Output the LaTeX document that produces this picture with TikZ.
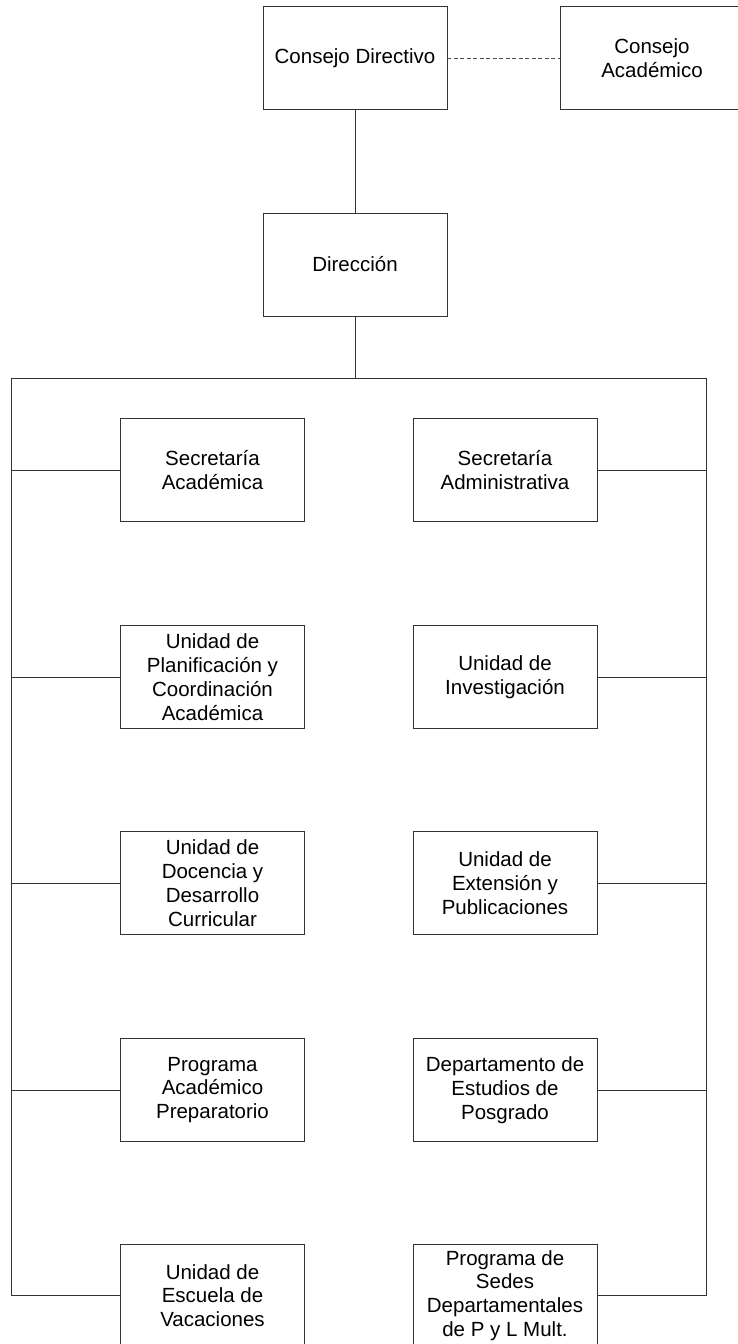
\documentclass[tikz,border=0pt]{standalone}
\usepackage{fontspec}
\setmainfont{Liberation Sans}
\begin{document}
\begin{tikzpicture}[x=1pt,y=-1pt,
  unit/.style={draw=black!80,line width=0.9pt,minimum width=184pt,minimum height=103pt,
    align=center,inner sep=2pt,font=\fontsize{20.5}{23.8}\selectfont},
  link/.style={draw=black!80,line width=0.9pt},
  dotlink/.style={draw=black!70,line width=0.8pt,dash pattern=on 4pt off 2.5pt}]
\useasboundingbox (0,0) rectangle (738,1344);
% governing bodies
\node[unit] (cd) at (355,58) {Consejo Directivo};
\node[unit,minimum width=190pt] (ca) at (655,58) {};
\node[font=\fontsize{20.5}{23.8}\selectfont,align=center] (catext) at (652,58) {Consejo\\Académico};
\node[unit] (dir) at (355,264.5) {Dirección};
% left column
\node[unit] (l1) at (212.5,470) {Secretaría\\Académica};
\node[unit] (l2) at (212.5,677) {Unidad de\\Planificación y\\Coordinación\\Académica};
\node[unit] (l3) at (212.5,883) {Unidad de\\Docencia y\\Desarrollo\\Curricular};
\node[unit] (l4) at (212.5,1090) {Programa\\Académico\\Preparatorio};
\node[unit] (l5) at (212.5,1295.5) {Unidad de\\Escuela de\\Vacaciones};
% right column
\node[unit] (r1) at (505,470) {Secretaría\\Administrativa};
\node[unit] (r2) at (505,677) {Unidad de\\Investigación};
\node[unit] (r3) at (505,883) {Unidad de\\Extensión y\\Publicaciones};
\node[unit] (r4) at (505,1090) {Departamento de\\Estudios de\\Posgrado};
\node[unit] (r5) at (505,1295.5) {Programa de\\Sedes\\Departamentales\\de P y L Mult.};
% bus coordinates
\coordinate (bt) at (355,378);
\coordinate (bl) at (11,378);
\coordinate (br) at (706,378);
\coordinate (el) at (11,1295.5);
\coordinate (er) at (706,1295.5);
% connectors
\draw[dotlink] (cd.east) -- (ca.west);
\draw[link] (cd.south) -- (dir.north);
\draw[link] (dir.south) -- (bt);
\draw[link] (bl) -- (br);
\draw[link] (bl) -- (el);
\draw[link] (br) -- (er);
\foreach \n in {l1,l2,l3,l4,l5}{\draw[link] (\n.west) -- (\n.west -| bl);}
\foreach \n in {r1,r2,r3,r4,r5}{\draw[link] (\n.east) -- (\n.east -| br);}
\end{tikzpicture}
\end{document}
